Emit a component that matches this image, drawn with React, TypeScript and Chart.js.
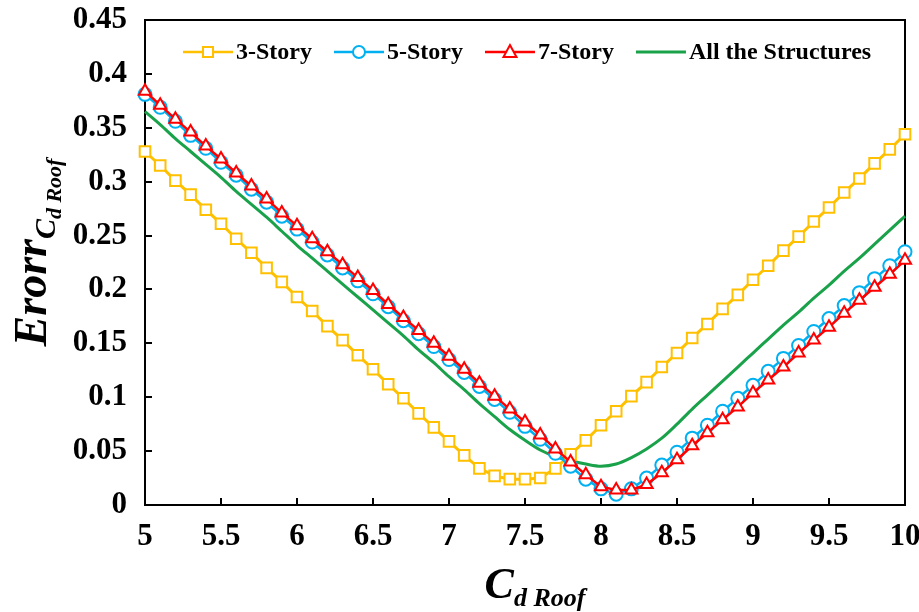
import React, { useEffect, useRef } from "react";
import { Chart, registerables } from "chart.js";

Chart.register(...registerables);

const cdRoof = [
  5.0, 5.1, 5.2, 5.3, 5.4, 5.5, 5.6, 5.7, 5.8, 5.9,
  6.0, 6.1, 6.2, 6.3, 6.4, 6.5, 6.6, 6.7, 6.8, 6.9,
  7.0, 7.1, 7.2, 7.3, 7.4, 7.5, 7.6, 7.7, 7.8, 7.9,
  8.0, 8.1, 8.2, 8.3, 8.4, 8.5, 8.6, 8.7, 8.8, 8.9,
  9.0, 9.1, 9.2, 9.3, 9.4, 9.5, 9.6, 9.7, 9.8, 9.9, 10.0,
];

const story3 = [
  0.328, 0.315, 0.301, 0.288, 0.274, 0.261, 0.247, 0.234, 0.220, 0.207,
  0.193, 0.180, 0.166, 0.153, 0.139, 0.126, 0.112, 0.099, 0.085, 0.072,
  0.059, 0.046, 0.034, 0.027, 0.024, 0.024, 0.025, 0.034, 0.047, 0.060,
  0.074, 0.087, 0.101, 0.114, 0.128, 0.141, 0.155, 0.168, 0.182, 0.195,
  0.209, 0.222, 0.236, 0.249, 0.263, 0.276, 0.290, 0.303, 0.317, 0.330, 0.344,
];

const story5 = [
  0.381, 0.369, 0.356, 0.343, 0.331, 0.318, 0.306, 0.293, 0.281, 0.268,
  0.256, 0.244, 0.232, 0.220, 0.208, 0.196, 0.184, 0.171, 0.159, 0.147,
  0.135, 0.123, 0.110, 0.098, 0.086, 0.073, 0.061, 0.048, 0.036, 0.024,
  0.015, 0.010, 0.015, 0.025, 0.037, 0.049, 0.062, 0.074, 0.087, 0.099,
  0.111, 0.124, 0.136, 0.148, 0.161, 0.173, 0.185, 0.197, 0.210, 0.222, 0.235,
];

const story7 = [
  0.384, 0.371, 0.358, 0.346, 0.333, 0.321, 0.308, 0.296, 0.284, 0.271,
  0.259, 0.247, 0.235, 0.223, 0.211, 0.199, 0.186, 0.174, 0.162, 0.150,
  0.138, 0.126, 0.113, 0.101, 0.089, 0.077, 0.065, 0.052, 0.040, 0.028,
  0.017, 0.014, 0.014, 0.019, 0.030, 0.042, 0.055, 0.067, 0.079, 0.091,
  0.104, 0.116, 0.128, 0.141, 0.153, 0.165, 0.178, 0.190, 0.202, 0.214, 0.227,
];

const allStructures = [
  0.365, 0.353, 0.340, 0.328, 0.316, 0.304, 0.291, 0.279, 0.267, 0.254,
  0.241, 0.229, 0.217, 0.205, 0.193, 0.181, 0.169, 0.157, 0.144, 0.132,
  0.119, 0.107, 0.094, 0.082, 0.070, 0.060, 0.051, 0.045, 0.041, 0.038,
  0.036, 0.038, 0.044, 0.052, 0.062, 0.075, 0.089, 0.102, 0.115, 0.128,
  0.141, 0.154, 0.167, 0.179, 0.192, 0.204, 0.217, 0.229, 0.242, 0.255, 0.268,
];

const xTicks = [5, 5.5, 6, 6.5, 7, 7.5, 8, 8.5, 9, 9.5, 10];
const xTickLabels = ["5", "5.5", "6", "6.5", "7", "7.5", "8", "8.5", "9", "9.5", "10"];
const yTicks = [0, 0.05, 0.1, 0.15, 0.2, 0.25, 0.3, 0.35, 0.4, 0.45];
const yTickLabels = ["0", "0.05", "0.1", "0.15", "0.2", "0.25", "0.3", "0.35", "0.4", "0.45"];

const seriesNames = ["3-Story", "5-Story", "7-Story", "All the Structures"];
const seriesColors = ["#FFC000", "#00B0F0", "#FF0000", "#1AA24A"];
const seriesMarkers = ["rect", "circle", "triangle", "none"];

const FAMILY = "'Liberation Serif', 'Times New Roman', serif";

type Seg = { text: string; font: string; dy: number };

function segWidth(ctx: CanvasRenderingContext2D, segs: Seg[]) {
  let w = 0;
  segs.forEach((s) => {
    ctx.font = s.font;
    w += ctx.measureText(s.text).width;
  });
  return w;
}

function drawSegs(ctx: CanvasRenderingContext2D, segs: Seg[], x: number, y: number) {
  let cx = x;
  segs.forEach((s) => {
    ctx.font = s.font;
    ctx.fillText(s.text, cx, y + s.dy);
    cx += ctx.measureText(s.text).width;
  });
}

function drawMarker(ctx: CanvasRenderingContext2D, kind: string, x: number, y: number, color: string) {
  ctx.save();
  ctx.fillStyle = "#FFFFFF";
  ctx.strokeStyle = color;
  ctx.lineWidth = 2;
  ctx.beginPath();
  if (kind === "rect") {
    ctx.rect(x - 5, y - 5, 10, 10);
  } else if (kind === "circle") {
    ctx.arc(x, y, 6, 0, Math.PI * 2);
  } else if (kind === "triangle") {
    ctx.moveTo(x, y - 7);
    ctx.lineTo(x + 6.5, y + 5);
    ctx.lineTo(x - 6.5, y + 5);
    ctx.closePath();
  } else {
    ctx.restore();
    return;
  }
  ctx.fill();
  ctx.stroke();
  ctx.restore();
}

const framePlugin = {
  id: "framePlugin",
  beforeDatasetsDraw(chart: any) {
    const { ctx, chartArea, scales } = chart;
    const { left, right, top, bottom } = chartArea;
    ctx.save();
    ctx.strokeStyle = "#000";
    ctx.lineWidth = 2;
    xTicks.forEach((v) => {
      const px = Math.round(scales.x.getPixelForValue(v));
      ctx.beginPath();
      ctx.moveTo(px, bottom);
      ctx.lineTo(px, bottom - 7);
      ctx.stroke();
    });
    yTicks.forEach((v) => {
      const py = Math.round(scales.y.getPixelForValue(v));
      ctx.beginPath();
      ctx.moveTo(left, py);
      ctx.lineTo(left + 7, py);
      ctx.stroke();
    });
    ctx.strokeRect(left, top, right - left, bottom - top);
    ctx.restore();
  },
  afterDraw(chart: any) {
    const { ctx, chartArea } = chart;
    const { left, right, top, bottom } = chartArea;
    ctx.save();
    ctx.fillStyle = "#000";
    ctx.textBaseline = "alphabetic";
    ctx.textAlign = "left";

    // legend
    const legendFont = `bold 24px ${FAMILY}`;
    const ly = 52;
    let lx = 183;
    const order = [0, 1, 2, 3];
    order.forEach((i) => {
      ctx.strokeStyle = seriesColors[i];
      ctx.lineWidth = i === 3 ? 3 : 2.5;
      ctx.beginPath();
      ctx.moveTo(lx, ly);
      ctx.lineTo(lx + 50, ly);
      ctx.stroke();
      drawMarker(ctx, seriesMarkers[i], lx + 25, ly, seriesColors[i]);
      ctx.font = legendFont;
      ctx.fillStyle = "#000";
      ctx.textBaseline = "middle";
      ctx.fillText(seriesNames[i], lx + 53, ly + 1);
      lx += 53 + ctx.measureText(seriesNames[i]).width + 22;
    });
    ctx.textBaseline = "alphabetic";

    // x title
    const xSegs: Seg[] = [
      { text: "C", font: `italic bold 44px ${FAMILY}`, dy: 0 },
      { text: "d Roof", font: `italic bold 26px ${FAMILY}`, dy: 8 },
    ];
    const xw = segWidth(ctx, xSegs);
    drawSegs(ctx, xSegs, (left + right) / 2 + 10 - xw / 2, 598);

    // y title
    const ySegs: Seg[] = [
      { text: "Erorr", font: `italic bold 46px ${FAMILY}`, dy: 0 },
      { text: "C", font: `italic bold 30px ${FAMILY}`, dy: 9 },
      { text: "d Roof", font: `italic bold 22px ${FAMILY}`, dy: 15 },
    ];
    const yw = segWidth(ctx, ySegs);
    ctx.translate(46, (top + bottom) / 2 - 10);
    ctx.rotate(-Math.PI / 2);
    drawSegs(ctx, ySegs, -yw / 2, 0);
    ctx.restore();
  },
};

export default function App() {
  const canvasRef = useRef<HTMLCanvasElement | null>(null);

  useEffect(() => {
    document.body.style.margin = "0";
    const canvas = canvasRef.current;
    if (!canvas) return;
    const pts = (arr: number[]) => cdRoof.map((x, i) => ({ x, y: arr[i] }));
    const tickFont = { family: FAMILY, size: 31, weight: "bold" as const };

    const chart = new Chart(canvas, {
      type: "line",
      data: {
        datasets: [
          {
            label: seriesNames[2],
            data: pts(story7),
            borderColor: seriesColors[2],
            borderWidth: 2.5,
            pointStyle: "triangle",
            pointRadius: 7,
            pointBorderWidth: 2,
            pointBackgroundColor: "#FFFFFF",
            pointBorderColor: seriesColors[2],
            tension: 0,
            clip: false,
          },
          {
            label: seriesNames[1],
            data: pts(story5),
            borderColor: seriesColors[1],
            borderWidth: 2.5,
            pointStyle: "circle",
            pointRadius: 6.5,
            pointBorderWidth: 2,
            pointBackgroundColor: "#FFFFFF",
            pointBorderColor: seriesColors[1],
            tension: 0,
            clip: false,
          },
          {
            label: seriesNames[0],
            data: pts(story3),
            borderColor: seriesColors[0],
            borderWidth: 3,
            pointStyle: "rect",
            pointRadius: 7.5,
            pointBorderWidth: 2,
            pointBackgroundColor: "#FFFFFF",
            pointBorderColor: seriesColors[0],
            tension: 0,
            clip: false,
          },
          {
            label: seriesNames[3],
            data: pts(allStructures),
            borderColor: seriesColors[3],
            borderWidth: 3,
            pointRadius: 0,
            cubicInterpolationMode: "monotone",
            clip: false,
          },
        ],
      } as any,
      options: {
        animation: false,
        responsive: false,
        maintainAspectRatio: false,
        devicePixelRatio: 1,
        layout: { padding: { top: 20, right: 14, left: 0, bottom: 0 } },
        plugins: {
          legend: { display: false },
          tooltip: { enabled: false },
          title: { display: false },
        },
        scales: {
          x: {
            type: "linear",
            min: 5,
            max: 10,
            grid: { display: false, drawTicks: false },
            border: { display: false },
            afterBuildTicks: (s: any) => {
              s.ticks = xTicks.map((v) => ({ value: v }));
            },
            afterFit: (s: any) => {
              s.height = 107;
              s.paddingLeft = 0;
              s.paddingRight = 0;
            },
            ticks: {
              autoSkip: false,
              maxRotation: 0,
              minRotation: 0,
              padding: 13,
              color: "#000",
              font: tickFont,
              callback: (_v: any, i: number) => xTickLabels[i],
            },
          },
          y: {
            type: "linear",
            min: 0,
            max: 0.45,
            grid: { display: false, drawTicks: false },
            border: { display: false },
            afterBuildTicks: (s: any) => {
              s.ticks = yTicks.map((v) => ({ value: v }));
            },
            afterFit: (s: any) => {
              s.width = 145;
              s.paddingTop = 0;
              s.paddingBottom = 0;
            },
            ticks: {
              autoSkip: false,
              padding: 18,
              color: "#000",
              font: tickFont,
              callback: (_v: any, i: number) => yTickLabels[i],
            },
          },
        },
      } as any,
      plugins: [framePlugin],
    });

    return () => chart.destroy();
  }, []);

  return (
    <div style={{ width: 919, height: 612, position: "relative", background: "#fff" }}>
      <canvas ref={canvasRef} width={919} height={612} style={{ display: "block" }} />
    </div>
  );
}
